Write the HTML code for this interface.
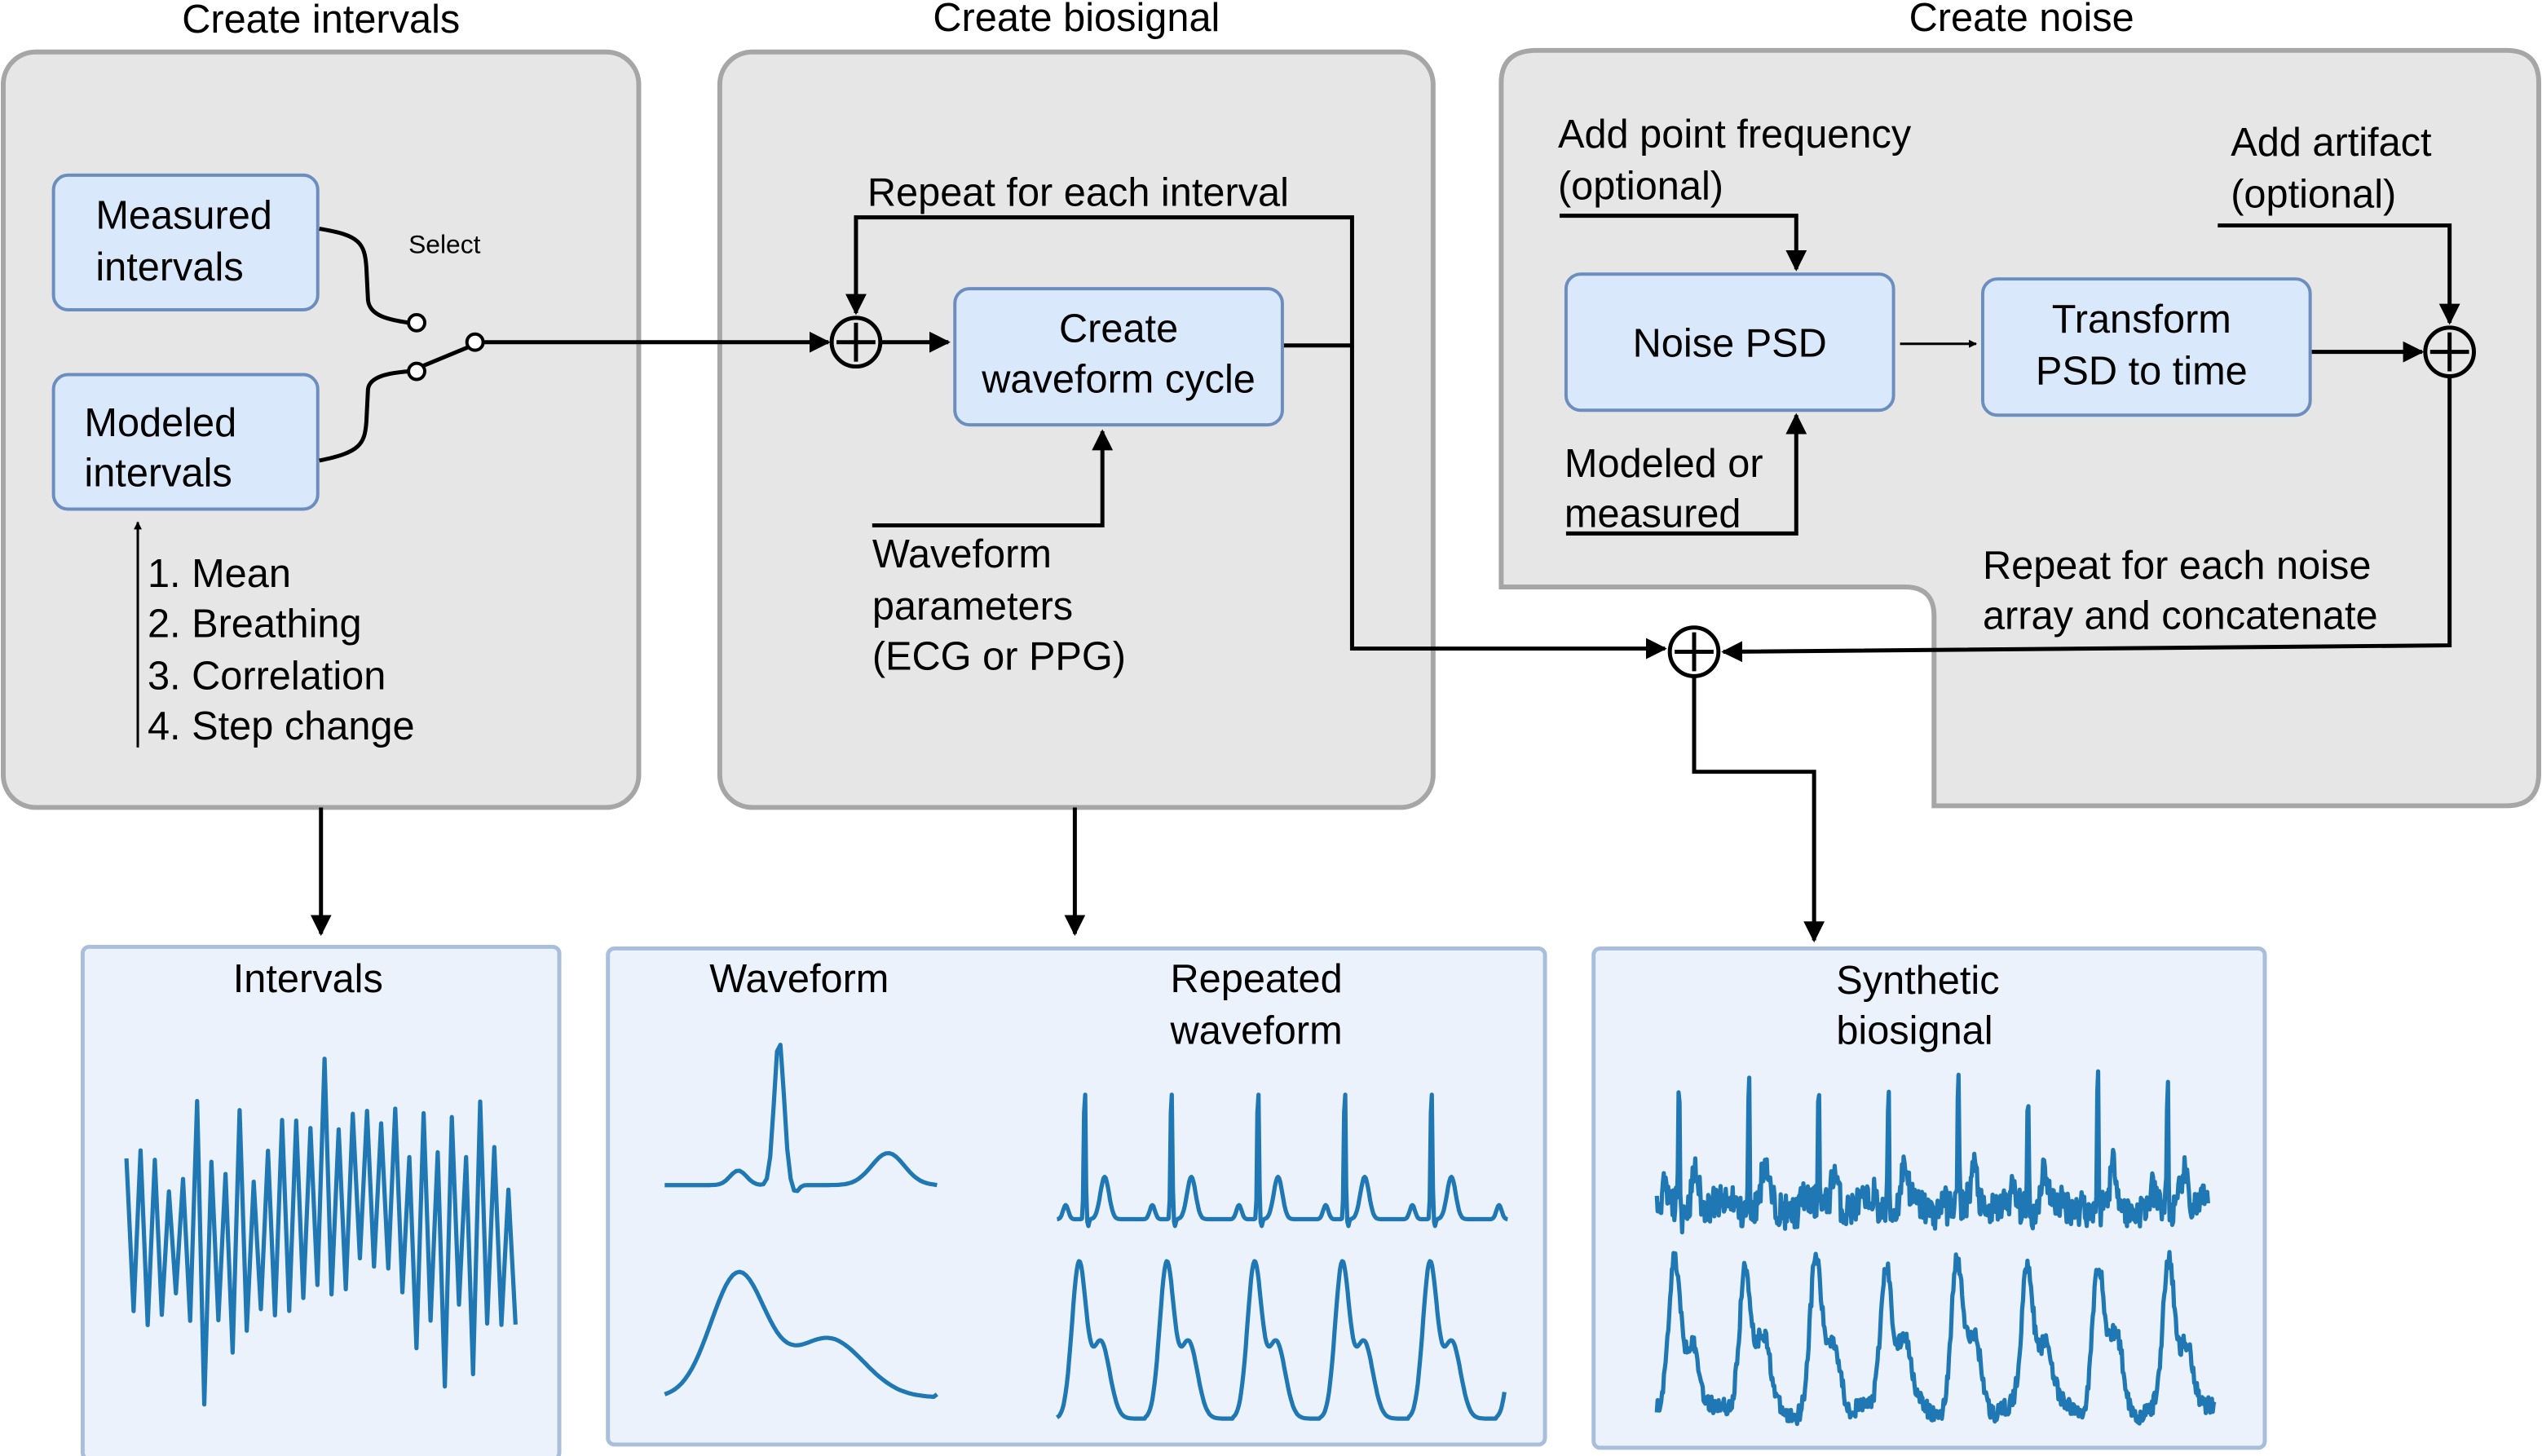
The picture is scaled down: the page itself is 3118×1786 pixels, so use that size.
<!DOCTYPE html>
<html><head><meta charset="utf-8"><style>
html,body{margin:0;padding:0;background:#fff;}
svg{display:block;}
text{font-family:"Liberation Sans",Arial,sans-serif;font-size:24.5px;fill:#000;}
</style></head><body>
<svg id="s" width="3118" height="1786" viewBox="0 0 1568 898" xmlns="http://www.w3.org/2000/svg">
<defs>
<marker id="a" viewBox="0 0 10 10" refX="9" refY="5" markerWidth="5" markerHeight="5" orient="auto" markerUnits="userSpaceOnUse"><path d="M0,0 L10,5 L0,10 z" fill="#000"/></marker>
<marker id="A" viewBox="0 0 10 10" refX="9" refY="5" markerWidth="13" markerHeight="13" orient="auto" markerUnits="userSpaceOnUse"><path d="M0,0 L10,5 L0,10 z" fill="#000"/></marker>
</defs>
<rect x="2" y="32" width="392" height="466" rx="20" fill="#e6e6e6" stroke="#a6a6a6" stroke-width="3"/>
<rect x="444" y="32" width="440" height="466" rx="20" fill="#e6e6e6" stroke="#a6a6a6" stroke-width="3"/>
<path d="M948,31 H1546 Q1566,31 1566,51 V477 Q1566,497 1546,497 H1193 V380 Q1193,362 1175,362 H926 V51 Q926,31 948,31 Z" fill="#e6e6e6" stroke="#a6a6a6" stroke-width="3"/>
<text x="198" y="20" text-anchor="middle">Create intervals</text>
<text x="664" y="19" text-anchor="middle">Create biosignal</text>
<text x="1247" y="19" text-anchor="middle">Create noise</text>
<g fill="#dae8fc" stroke="#6c8ebf" stroke-width="2">
<rect x="33" y="108" width="163" height="83" rx="9"/>
<rect x="33" y="231" width="163" height="83" rx="9"/>
<rect x="589" y="178" width="202" height="84" rx="9"/>
<rect x="966" y="169" width="202" height="84" rx="9"/>
<rect x="1223" y="172" width="202" height="84" rx="9"/>
</g>
<text x="59" y="141">Measured</text><text x="59" y="173">intervals</text>
<text x="52" y="269">Modeled</text><text x="52" y="300">intervals</text>
<text x="690" y="211" text-anchor="middle">Create</text><text x="690" y="242" text-anchor="middle">waveform cycle</text>
<text x="1067" y="220" text-anchor="middle">Noise PSD</text>
<text x="1321" y="205" text-anchor="middle">Transform</text><text x="1321" y="237" text-anchor="middle">PSD to time</text>
<text x="252" y="156" style="font-size:16px">Select</text>
<text x="91" y="362">1. Mean</text><text x="91" y="393">2. Breathing</text><text x="91" y="425">3. Correlation</text><text x="91" y="456">4. Step change</text>
<text x="535" y="127">Repeat for each interval</text>
<text x="538" y="350">Waveform</text><text x="538" y="382">parameters</text><text x="538" y="413">(ECG or PPG)</text>
<text x="961" y="91">Add point frequency</text><text x="961" y="123">(optional)</text>
<text x="1376" y="96">Add artifact</text><text x="1376" y="128">(optional)</text>
<text x="965" y="294">Modeled or</text><text x="965" y="325">measured</text>
<text x="1223" y="357">Repeat for each noise</text><text x="1223" y="388">array and concatenate</text>
<g fill="none" stroke="#000" stroke-width="2.5">
<path d="M197,141 C222,145 225,150 226,165 L227,185 C228,195 240,197 252,199"/>
<path d="M197,284 C222,279 225,274 226,260 L227,240 C228,232 240,230 252,229"/>
<line x1="260" y1="226" x2="289" y2="214"/>
<line x1="298" y1="211" x2="511" y2="211" marker-end="url(#A)"/>
<line x1="544" y1="211" x2="585" y2="211" marker-end="url(#A)"/>
<path d="M792,213 H834 V134 H528 V193" marker-end="url(#A)"/>
<path d="M834,213 V400 H1027" marker-end="url(#A)"/>
<path d="M538,324 H680 V266" marker-end="url(#A)"/>
<path d="M1045,418 V476 H1119 V580" marker-end="url(#A)"/>
<path d="M962,133 H1108 V166" marker-end="url(#A)"/>
<path d="M966,329 H1108 V256" marker-end="url(#A)"/>
<line x1="1172" y1="212" x2="1219" y2="212" marker-end="url(#a)" stroke-width="1.5"/>
<line x1="1426" y1="217" x2="1494" y2="217" marker-end="url(#A)"/>
<path d="M1368,139 H1511 V199" marker-end="url(#A)"/>
<path d="M1511,233 V398 L1063,402" marker-end="url(#A)"/>
<line x1="198" y1="498" x2="198" y2="576" marker-end="url(#A)"/>
<line x1="663" y1="498" x2="663" y2="576" marker-end="url(#A)"/>
<line x1="85" y1="461" x2="85" y2="322" stroke-width="1.5" marker-end="url(#a)"/>
</g>
<g fill="#fff" stroke="#000" stroke-width="2">
<circle cx="257" cy="199" r="5"/><circle cx="257" cy="229" r="5"/><circle cx="293" cy="211" r="5"/>
</g>
<g fill="none" stroke="#000" stroke-width="2.5">
<circle cx="528" cy="211" r="15"/><path d="M528,199 V223 M516,211 H540"/>
<circle cx="1045" cy="402" r="15"/><path d="M1045,390 V414 M1033,402 H1057"/>
<circle cx="1511" cy="217" r="15"/><path d="M1511,205 V229 M1499,217 H1523"/>
</g>
<g fill="#ebf2fc" stroke="#a9bedb" stroke-width="2.5">
<rect x="51" y="584" width="294" height="316" rx="4"/>
<rect x="375" y="585" width="578" height="306" rx="4"/>
<rect x="983" y="585" width="414" height="308" rx="4"/>
</g>
<text x="190" y="612" text-anchor="middle">Intervals</text>
<text x="493" y="612" text-anchor="middle">Waveform</text>
<text x="775" y="612" text-anchor="middle">Repeated</text><text x="775" y="644" text-anchor="middle">waveform</text>
<text x="1183" y="613" text-anchor="middle">Synthetic</text><text x="1181" y="644" text-anchor="middle">biosignal</text>
<g id="plots" fill="none" stroke="#1f77b4" stroke-width="2.6" stroke-linejoin="round"></g>
</svg>
<script>
(function(){
var g=document.getElementById('plots');
function add(pts){var p=document.createElementNS('http://www.w3.org/2000/svg','path');
p.setAttribute('d','M'+pts.map(function(q){return q[0].toFixed(1)+','+q[1].toFixed(1)}).join(' L'));g.appendChild(p);}
var seed=11;function rnd(){seed=(seed*16807)%2147483647;return seed/2147483647;}
function gs(t,m,s){return Math.exp(-(t-m)*(t-m)/(2*s*s));}
var pts=[],n=56;for(var i=0;i<n;i++){var x=78+i*(240/(n-1));var c=752+15*Math.sin(i/7)+10*(rnd()-0.5);var a=(i%2?1:-1)*(20+80*rnd()*rnd()+30*rnd());pts.push([x,Math.max(628,Math.min(875,c+a))]);}
add(pts);
function wave(x0,x1,y0,amp,f,N,noise){var p=[];var M=N*80;for(var i=0;i<=M;i++){var t=i/M*N;var ph=t-Math.floor(t);var v=f(ph);if(noise)v-= (rnd()-0.5)*noise+0.04*Math.sin(t*9);p.push([x0+(x1-x0)*i/M,y0+amp*v]);}add(p);}
function ecg1(t){return -gs(t,0.27,0.03)*0.1-gs(t,0.42,0.018)*1+gs(t,0.48,0.012)*0.05-gs(t,0.82,0.06)*0.22;}
wave(410,578,731,90,ecg1,1,0);
function ppg1(t){return -(gs(t,0.27,0.1)*1+gs(t,0.6,0.13)*0.48);}
wave(410,578,862,76,ppg1,1,0);
function ecgR(t){return -gs(t,0.1,0.03)*0.1-gs(t,0.32,0.01)*1+gs(t,0.36,0.01)*0.05-gs(t,0.55,0.05)*0.3;}
wave(652,930,752,87,ecgR,5.2,0);
function ppgR(t){return -(gs(t,0.25,0.08)*1+gs(t,0.5,0.1)*0.5);}
wave(652,928,875,95,ppgR,5.1,0);
wave(1022,1362,745,85,ecgR,7.9,0.25);
wave(1022,1366,870,90,ppgR,7.9,0.12);
})();
</script>
</body></html>
